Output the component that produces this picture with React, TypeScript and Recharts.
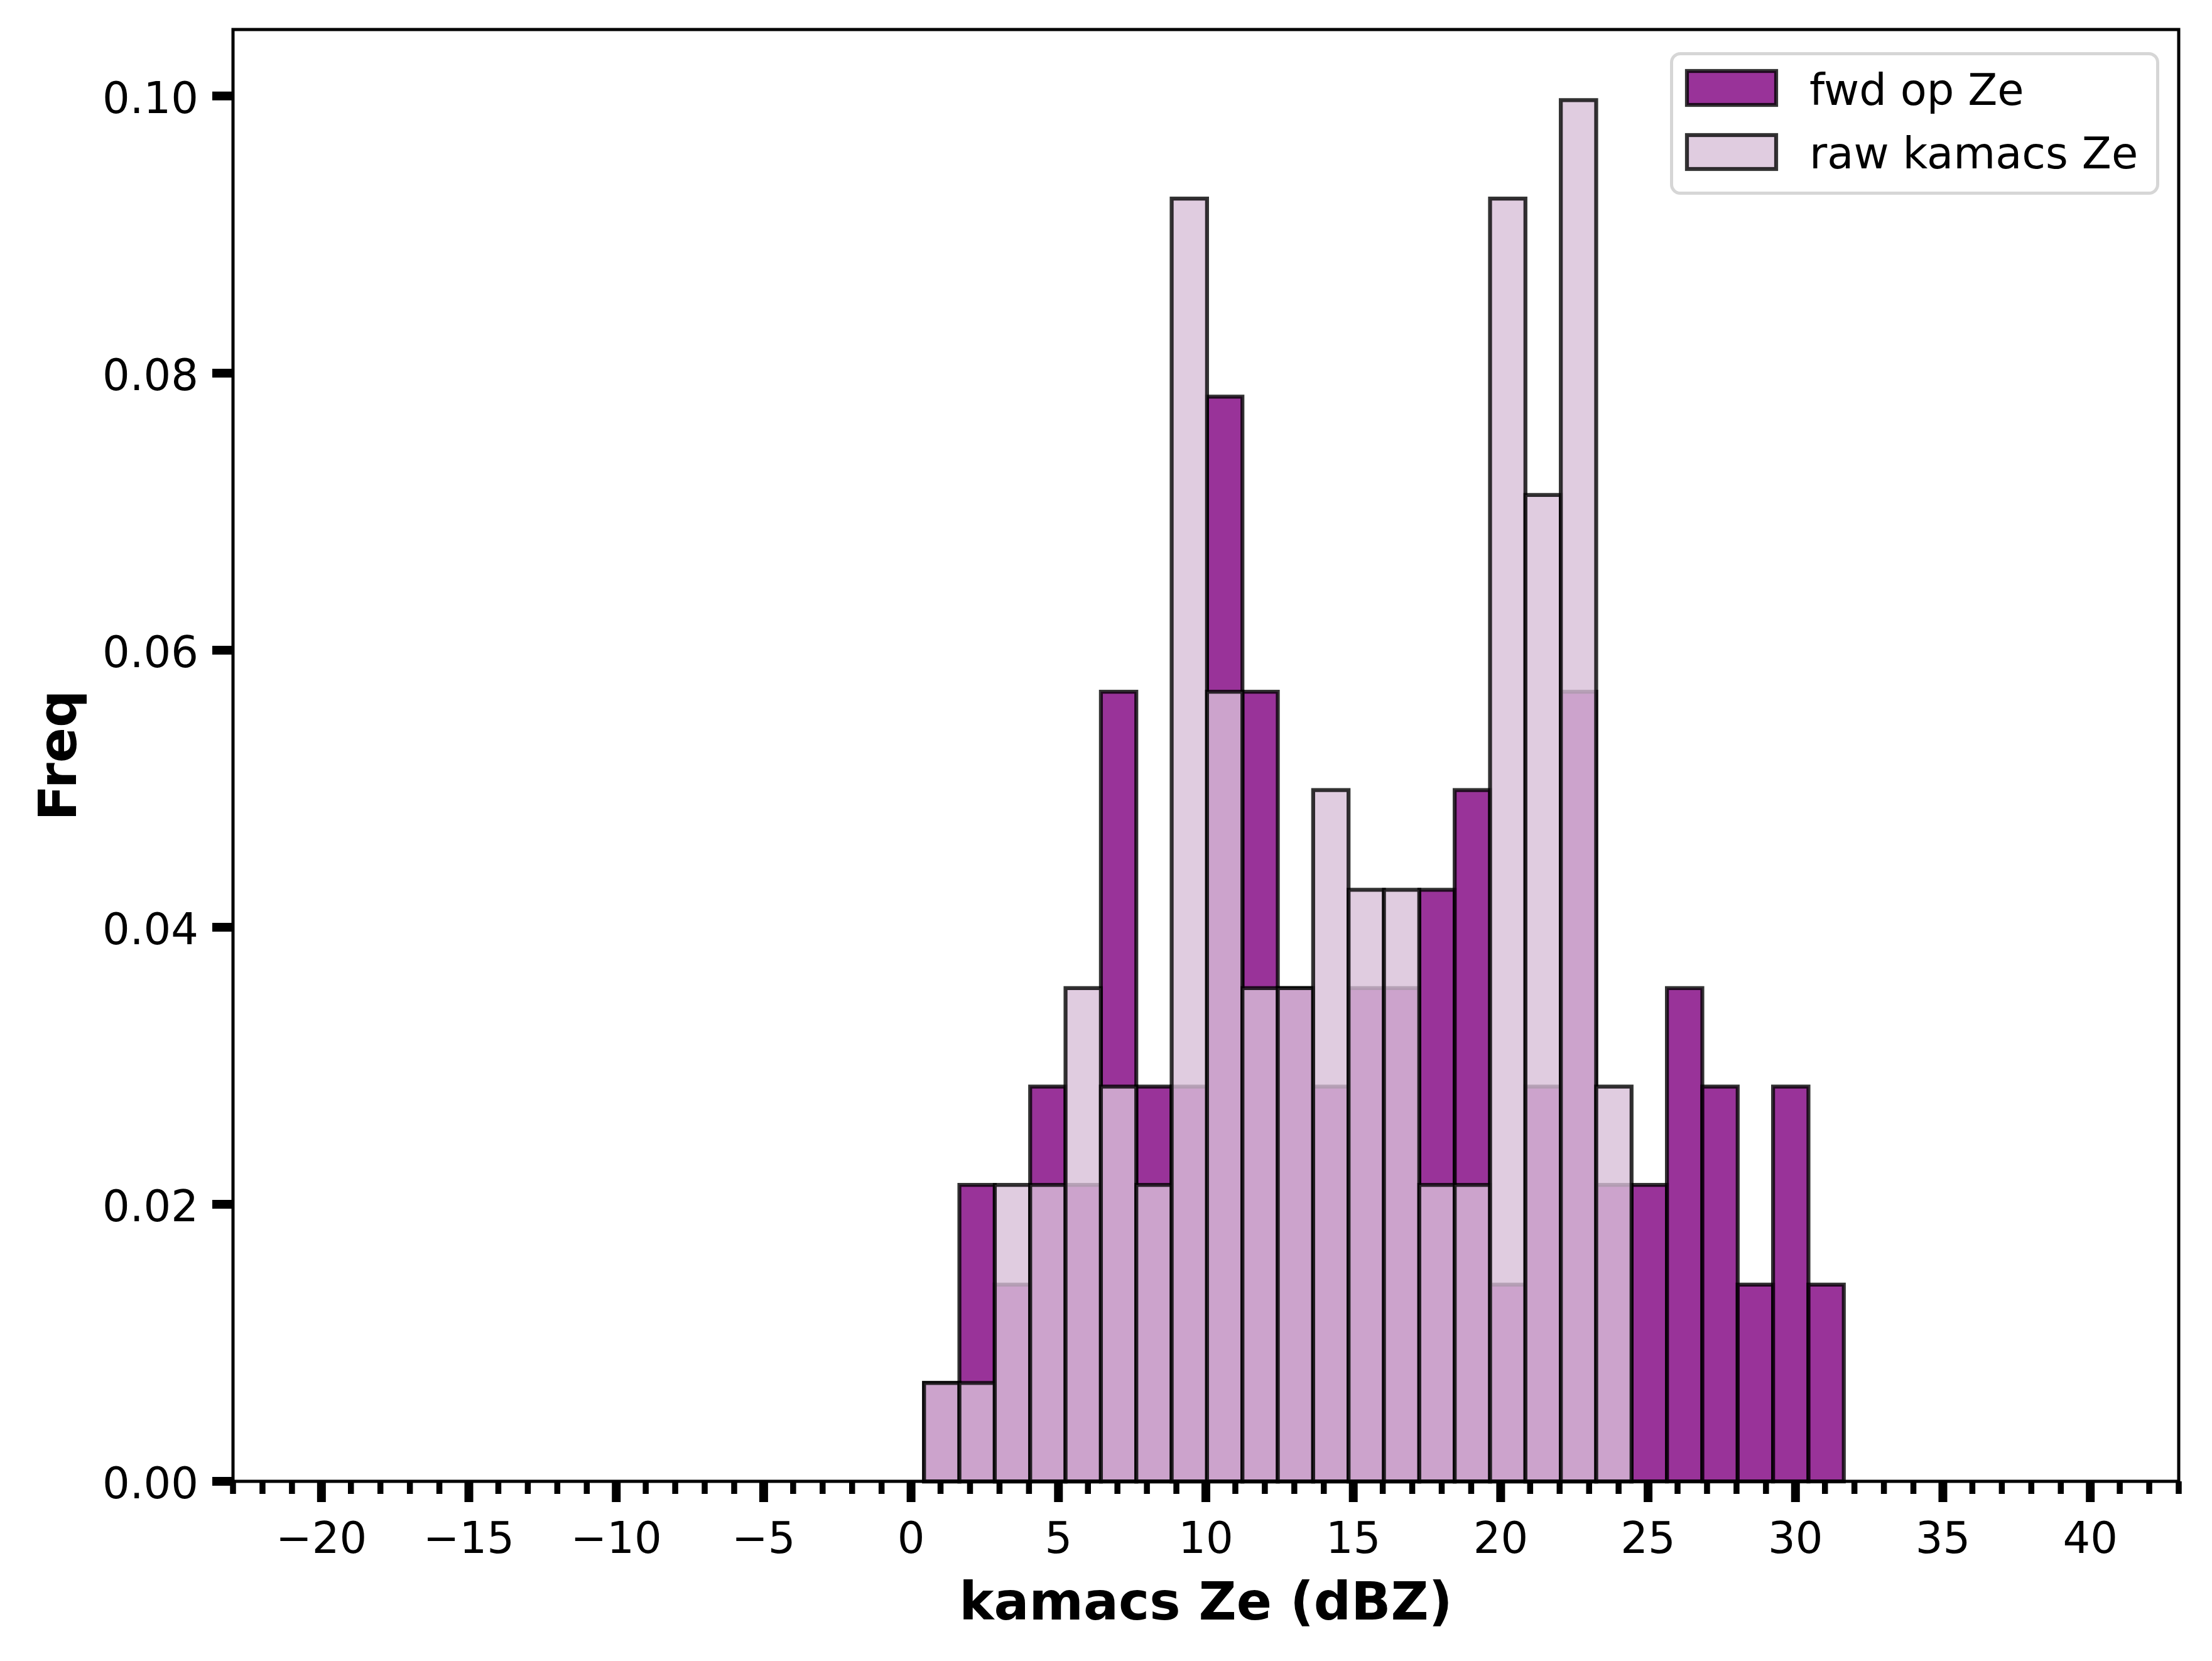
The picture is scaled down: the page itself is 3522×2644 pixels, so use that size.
import React from 'react';
import { ComposedChart, XAxis, YAxis, ReferenceArea, Legend, Label } from 'recharts';

// Histogram bin edges (dBZ)
const binEdges = [
  0.44, 1.64, 2.84, 4.04, 5.24, 6.44, 7.64, 8.84, 10.04, 11.24, 12.44, 13.64, 14.84,
  16.04, 17.24, 18.44, 19.64, 20.84, 22.04, 23.24, 24.44, 25.64, 26.84, 28.04, 29.24,
  30.44, 31.64,
];

// Density values per bin
const fwdOpZe = [
  0.0071, 0.0214, 0.0142, 0.0285, 0.0214, 0.057, 0.0285, 0.0285, 0.0783, 0.057, 0.0356,
  0.0285, 0.0356, 0.0356, 0.0427, 0.0499, 0.0142, 0.0285, 0.057, 0.0214, 0.0214, 0.0356,
  0.0285, 0.0142, 0.0285, 0.0142,
];
const rawKamacsZe = [
  0.0071, 0.0071, 0.0214, 0.0214, 0.0356, 0.0285, 0.0214, 0.0926, 0.057, 0.0356, 0.0356,
  0.0499, 0.0427, 0.0427, 0.0214, 0.0214, 0.0926, 0.0712, 0.0997, 0.0285, 0, 0, 0, 0, 0, 0,
];

const seriesNames = ['fwd op Ze', 'raw kamacs Ze'];
const seriesFills = ['purple', 'thistle'];

const xMajorTicks = [-20, -15, -10, -5, 0, 5, 10, 15, 20, 25, 30, 35, 40];
const xMinorTicks = Array.from({ length: 67 }, (_, i) => i - 23);
const yTicks = [0, 0.02, 0.04, 0.06, 0.08, 0.1];
const xDomain: [number, number] = [-23, 43];
const yDomain: [number, number] = [0, 0.1048];

const xLabel = 'kamacs Ze (dBZ)';
const yLabel = 'Freq';

const FONT = 'DejaVu Sans, Verdana, sans-serif';

const rows = binEdges.slice(0, -1).map((lo, i) => ({
  lo,
  hi: binEdges[i + 1],
  mid: (lo + binEdges[i + 1]) / 2,
  fwd: fwdOpZe[i],
  raw: rawKamacsZe[i],
}));

const fmtX = (v: number) => (v < 0 ? '\u2212' + Math.abs(v) : String(v));

const XTick = (props: any) => {
  const { x, y, payload } = props;
  const v = payload.value;
  const major = xMajorTicks.includes(v);
  return (
    <g>
      <line x1={x} x2={x} y1={y} y2={y + (major ? 33 : 20)} stroke="#000" strokeWidth={major ? 14 : 9.5} />
      {major && (
        <text x={x} y={y + 114} textAnchor="middle" fontSize={68.75} fontFamily={FONT} fill="#000">
          {fmtX(v)}
        </text>
      )}
    </g>
  );
};

const YTick = (props: any) => {
  const { x, y, payload } = props;
  return (
    <g>
      <line x1={x - 33} x2={x} y1={y} y2={y} stroke="#000" strokeWidth={14} />
      <text x={x - 55} y={y + 27} textAnchor="end" fontSize={68.75} fontFamily={FONT} fill="#000">
        {Number(payload.value).toFixed(2)}
      </text>
    </g>
  );
};

const renderXLabel = (props: any) => {
  const vb = props.viewBox || {};
  return (
    <text
      x={vb.x + vb.width / 2}
      y={vb.y + 220}
      textAnchor="middle"
      fontSize={83}
      fontWeight="bold"
      fontFamily={FONT}
      fill="#000"
    >
      {xLabel}
    </text>
  );
};

const renderYLabel = (props: any) => {
  const vb = props.viewBox || {};
  const cx = vb.x + vb.width - 250;
  const cy = vb.y + vb.height / 2;
  return (
    <text
      x={cx}
      y={cy}
      transform={`rotate(-90 ${cx} ${cy})`}
      textAnchor="middle"
      fontSize={83}
      fontWeight="bold"
      fontFamily={FONT}
      fill="#000"
    >
      {yLabel}
    </text>
  );
};

const LegendBox = () => (
  <svg width={779} height={227} style={{ display: 'block' }}>
    <rect x={2.5} y={2.5} width={774} height={222} rx={14} ry={14} fill="#fff" fillOpacity={0.8} stroke="#d6d6d6" strokeWidth={5} />
    {seriesNames.map((name, i) => (
      <g key={name}>
        <rect
          x={27}
          y={30 + i * 102}
          width={142}
          height={54}
          fill={seriesFills[i]}
          fillOpacity={0.8}
          stroke="#000"
          strokeOpacity={0.8}
          strokeWidth={6.25}
        />
        <text x={222} y={84 + i * 101} fontSize={68.75} fontFamily={FONT} fill="#000">
          {name}
        </text>
      </g>
    ))}
  </svg>
);

export default function App() {
  return (
    <div style={{ position: 'absolute', left: 0, top: 0, width: 3522, height: 2644, background: '#fff' }}>
      <ComposedChart
        width={3522}
        height={2644}
        data={rows}
        margin={{ top: 47, right: 53, bottom: 0, left: 0 }}
      >
        <XAxis
          type="number"
          dataKey="mid"
          domain={xDomain}
          allowDataOverflow
          ticks={xMinorTicks}
          interval={0}
          tick={<XTick />}
          tickLine={false}
          axisLine={false}
          tickSize={0}
          tickMargin={0}
          height={286}
        >
          <Label content={renderXLabel} />
        </XAxis>
        <YAxis
          type="number"
          domain={yDomain}
          allowDataOverflow
          ticks={yTicks}
          interval={0}
          tick={<YTick />}
          tickLine={false}
          axisLine={false}
          tickSize={0}
          tickMargin={0}
          width={371}
        >
          <Label content={renderYLabel} />
        </YAxis>
        {rows.map((r, i) =>
          r.fwd > 0 ? (
            <ReferenceArea
              key={'f' + i}
              x1={r.lo}
              x2={r.hi}
              y1={0}
              y2={r.fwd}
              ifOverflow="visible"
              fill={seriesFills[0]}
              fillOpacity={0.8}
              stroke="#000"
              strokeOpacity={0.8}
              strokeWidth={6.25}
            />
          ) : null
        )}
        {rows.map((r, i) =>
          r.raw > 0 ? (
            <ReferenceArea
              key={'r' + i}
              x1={r.lo}
              x2={r.hi}
              y1={0}
              y2={r.raw}
              ifOverflow="visible"
              fill={seriesFills[1]}
              fillOpacity={0.8}
              stroke="#000"
              strokeOpacity={0.8}
              strokeWidth={6.25}
            />
          ) : null
        )}
        <ReferenceArea
          x1={xDomain[0]}
          x2={xDomain[1]}
          y1={yDomain[0]}
          y2={yDomain[1]}
          ifOverflow="visible"
          fill="none"
          stroke="#000"
          strokeWidth={5}
        />
        <Legend
          layout="horizontal"
          verticalAlign="middle"
          align="center"
          wrapperStyle={{ position: 'absolute', left: 2659, top: 83, width: 779, height: 227 }}
          content={() => <LegendBox />}
        />
      </ComposedChart>
    </div>
  );
}
